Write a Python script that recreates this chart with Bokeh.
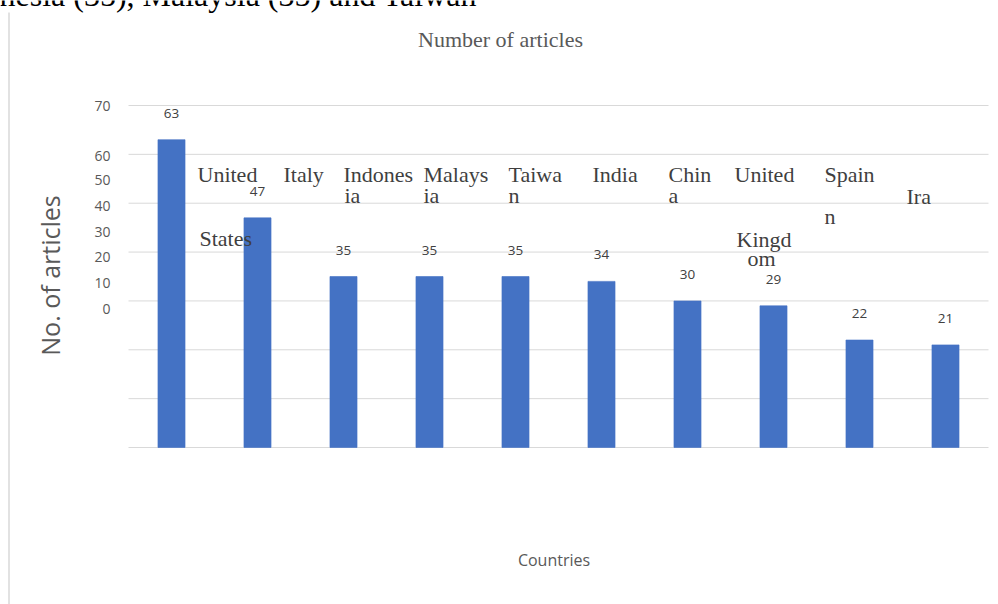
import math
from bokeh.plotting import figure
from bokeh.models import Range1d, Label, ColumnDataSource
from bokeh.core.properties import value
from bokeh.embed import file_html
from bokeh.resources import INLINE

# ---------------- data ----------------
countries = ["United States", "Italy", "Indonesia", "Malaysia", "Taiwan",
             "India", "China", "United Kingdom", "Spain", "Iran"]
articles = [63, 47, 35, 35, 35, 34, 30, 29, 22, 21]

y_tick_values = [0, 10, 20, 30, 40, 50, 60, 70]
y_tick_labels = ["0", "10", "20", "30", "40", "50", "60", "70"]

title_text = "Number of articles"
y_title = "No. of articles"
x_title = "Countries"
caption_text = "nesia (35), Malaysia (35) and Taiwan"

# category names as they appear in the picture: wrapped and displaced fragments
category_fragments = ["United", "States", "Italy", "Indones", "ia", "Malays", "ia",
                      "Taiwa", "n", "India", "Chin", "a", "United", "Kingd", "om",
                      "Spain", "n", "Ira"]

# ---------------- layout (pixels) ----------------
W, H = 998, 604
FL, FR, FT, FB = 128, 988, 105, 447          # bar area inside the page
Y_MAX = 70
N = len(countries)

# where each tick label is drawn (pixel rows; labels are shifted in the reference)
tick_label_rows = [308, 282.5, 256.7, 231, 205, 179.3, 155, 105.7]

# baselines of the category fragments
fragment_pos = [(197, 182.5), (199, 246.5), (283, 182.5), (343, 182.5), (344, 203.5),
                (423, 182.5), (423, 203.5), (508, 182.5), (508, 203.5), (592, 182.5),
                (668, 182.5), (668, 203.5), (734, 182.5), (736, 247.5), (747, 267),
                (824, 182.5), (824, 225), (906, 205)]

SERIF_SHIFT = 0.4   # renderer places "alphabetic" text this many em too low


def dx(px):
    return (px - FL) / (FR - FL) * N


def dy(py):
    return (FB - py) / (FB - FT) * Y_MAX


p = figure(width=W, height=H, output_backend="svg", toolbar_location=None,
           x_range=Range1d(dx(0), dx(W)), y_range=Range1d(dy(H), dy(0)),
           min_border=0)
p.outline_line_color = None
p.background_fill_color = "white"
p.border_fill_color = "white"
p.axis.visible = False
p.grid.visible = False

# grid lines across the bar area (category units 0..N)
p.segment(x0=[0] * len(y_tick_values), x1=[N] * len(y_tick_values),
          y0=y_tick_values, y1=y_tick_values, line_color="#d9d9d9", line_width=1)

src = ColumnDataSource(dict(x=[i + 0.5 for i in range(N)], country=countries,
                            n=articles, label=[str(v) for v in articles]))

p.vbar(x="x", top="n", bottom=0, width=0.315, source=src,
       fill_color="#4472C4", line_color="#4472C4", line_alpha=0.6)

p.text(x="x", y="n", text="label", source=src,
       y_offset=-26.5, text_align="center", text_baseline="middle",
       text_font=value("Open Sans"), text_font_size="13.5px", text_color="#404040")

# y tick labels (displaced as in the reference)
p.text(x=[dx(110)] * len(y_tick_labels), y=[dy(r) for r in tick_label_rows],
       text=y_tick_labels, text_align="right", text_baseline="middle",
       text_font=value("Open Sans"), text_font_size="14px", text_color="#595959")

# y axis title
p.add_layout(Label(x=dx(49), y=dy(275), text=y_title, angle=math.pi / 2,
                   text_align="center", text_baseline="middle",
                   text_font="Open Sans", text_font_size="25px", text_color="#595959"))

# chart title
fs = 22
p.add_layout(Label(x=dx(500), y=dy(47.5 - SERIF_SHIFT * fs), text=title_text,
                   text_align="center", text_baseline="alphabetic",
                   text_font="Liberation Serif", text_font_size=f"{fs}px",
                   text_color="#595959"))

# x axis title
p.add_layout(Label(x=dx(553.5), y=dy(559), text=x_title, text_align="center",
                   text_baseline="middle", text_font="Open Sans",
                   text_font_size="16px", text_color="#595959"))

# category name fragments
for t, (fx, fy) in zip(category_fragments, fragment_pos):
    p.add_layout(Label(x=dx(fx), y=dy(fy - SERIF_SHIFT * fs), text=t, text_align="left",
                       text_baseline="alphabetic", text_font="Liberation Serif",
                       text_font_size=f"{fs}px", text_color="#3f3f3f"))

# caption cut at the top of the page
cs = 32
p.add_layout(Label(x=dx(-1), y=dy(7.5 - SERIF_SHIFT * cs), text=caption_text,
                   text_align="left", text_baseline="alphabetic",
                   text_font="Liberation Serif", text_font_size=f"{cs}px",
                   text_color="#000000"))

# page margin line on the left
p.segment(x0=[dx(8.5)], x1=[dx(8.5)], y0=[dy(12)], y1=[dy(H)],
          line_color="#d9d9d9", line_width=1.5)

open("out.html", "w").write(file_html(p, INLINE))
